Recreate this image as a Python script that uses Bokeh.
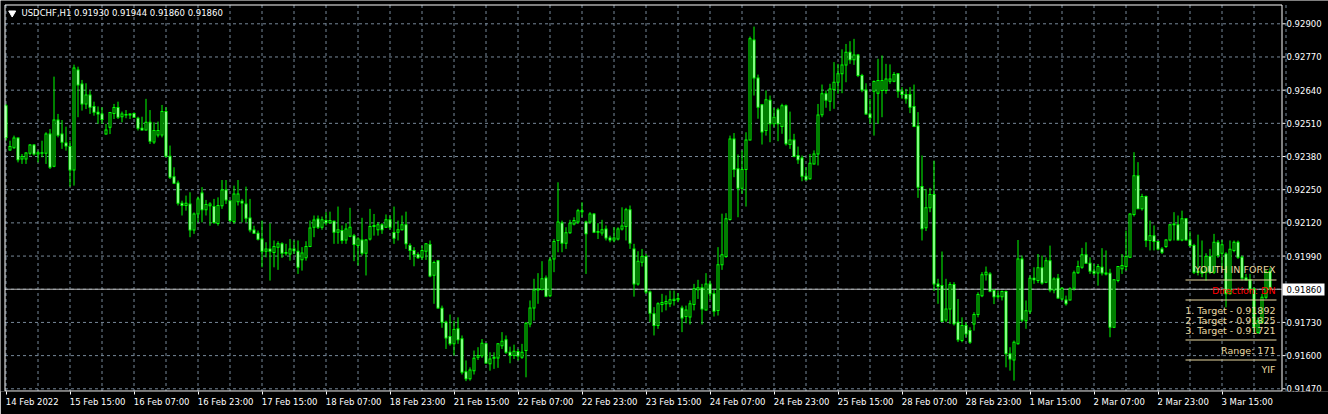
from bokeh.plotting import figure
from bokeh.models import ColumnDataSource, FixedTicker, Label, Range1d, LinearAxis
from bokeh.core.properties import value
from bokeh.embed import file_html
from bokeh.resources import INLINE

# ---------------- data (USDCHF H1) ----------------
opens = [
    0.92579, 0.92406, 0.92414, 0.92453, 0.92370, 0.92370, 0.92393, 0.92425, 0.92390, 0.92395,
    0.92393, 0.92468, 0.92342, 0.92523, 0.92468, 0.92433, 0.92419, 0.92327, 0.92719, 0.92664,
    0.92586, 0.92621, 0.92576, 0.92553, 0.92547, 0.92468, 0.92495, 0.92549, 0.92572, 0.92536,
    0.92545, 0.92543, 0.92549, 0.92530, 0.92491, 0.92484, 0.92514, 0.92437, 0.92464, 0.92464,
    0.92556, 0.92381, 0.92301, 0.92276, 0.92197, 0.92188, 0.92194, 0.92092, 0.92155, 0.92237,
    0.92171, 0.92187, 0.92184, 0.92118, 0.92187, 0.92249, 0.92207, 0.92125, 0.92203, 0.92205,
    0.92194, 0.92139, 0.92092, 0.92079, 0.92057, 0.92009, 0.92018, 0.92004, 0.92025, 0.92038,
    0.92001, 0.91998, 0.92018, 0.92009, 0.91976, 0.91983, 0.92027, 0.92103, 0.92135, 0.92103,
    0.92129, 0.92121, 0.92126, 0.92083, 0.92090, 0.92053, 0.92068, 0.92070, 0.92031, 0.92053,
    0.92001, 0.92057, 0.92106, 0.92093, 0.92113, 0.92103, 0.92132, 0.92082, 0.92083, 0.92093,
    0.92113, 0.92031, 0.92012, 0.91996, 0.91985, 0.92009, 0.92035, 0.91915, 0.91972, 0.91786,
    0.91731, 0.91675, 0.91646, 0.91705, 0.91666, 0.91537, 0.91509, 0.91541, 0.91594, 0.91599,
    0.91646, 0.91568, 0.91590, 0.91591, 0.91639, 0.91662, 0.91613, 0.91600, 0.91616, 0.91594,
    0.91620, 0.91724, 0.91787, 0.91857, 0.91859, 0.91904, 0.91835, 0.91979, 0.92051, 0.92120,
    0.92040, 0.92081, 0.92116, 0.92123, 0.92168, 0.92123, 0.92123, 0.92155, 0.92083, 0.92080,
    0.92096, 0.92061, 0.92053, 0.92057, 0.92096, 0.92106, 0.92171, 0.92018, 0.91881, 0.91966,
    0.91988, 0.91849, 0.91764, 0.91718, 0.91800, 0.91803, 0.91803, 0.91816, 0.91819, 0.91787,
    0.91753, 0.91751, 0.91800, 0.91858, 0.91866, 0.91779, 0.91881, 0.91842, 0.91777, 0.91956,
    0.91988, 0.92133, 0.92449, 0.92332, 0.92256, 0.92329, 0.92445, 0.92837, 0.92688, 0.92583,
    0.92482, 0.92600, 0.92508, 0.92563, 0.92498, 0.92579, 0.92427, 0.92445, 0.92384, 0.92374,
    0.92303, 0.92293, 0.92351, 0.92390, 0.92544, 0.92626, 0.92597, 0.92643, 0.92671, 0.92704,
    0.92739, 0.92789, 0.92759, 0.92778, 0.92697, 0.92641, 0.92547, 0.92636, 0.92628, 0.92639,
    0.92639, 0.92675, 0.92675, 0.92704, 0.92636, 0.92623, 0.92623, 0.92576, 0.92500, 0.92263,
    0.92101, 0.92179, 0.92231, 0.91881, 0.91875, 0.91740, 0.91783, 0.91879, 0.91731, 0.91659,
    0.91718, 0.91698, 0.91724, 0.91761, 0.91835, 0.91917, 0.91920, 0.91855, 0.91831, 0.91831,
    0.91851, 0.91607, 0.91583, 0.91646, 0.91979, 0.91737, 0.91774, 0.91903, 0.91894, 0.91944,
    0.91887, 0.91972, 0.91857, 0.91903, 0.91822, 0.91818, 0.91818, 0.91864, 0.91925, 0.91946,
    0.91995, 0.91962, 0.91931, 0.91924, 0.91946, 0.91924, 0.91923, 0.91711, 0.91894, 0.91940,
    0.91949, 0.91985, 0.92153, 0.92305, 0.92175, 0.92223, 0.92051, 0.92070, 0.92047, 0.92018,
    0.92027, 0.92053, 0.92113, 0.92113, 0.92053, 0.92136, 0.92053, 0.92031, 0.91927, 0.91931,
    0.91927, 0.91988, 0.91927, 0.92044, 0.92001, 0.91998, 0.91842, 0.92012, 0.92044, 0.91985,
    0.91904, 0.91897, 0.91861, 0.91691, 0.91731, 0.91829, 0.91930,
]
highs = [
    0.92586, 0.92442, 0.92462, 0.92455, 0.92390, 0.92397, 0.92429, 0.92429, 0.92403, 0.92442,
    0.92475, 0.92488, 0.92693, 0.92547, 0.92523, 0.92497, 0.92442, 0.92740, 0.92732, 0.92680,
    0.92667, 0.92638, 0.92595, 0.92576, 0.92573, 0.92508, 0.92553, 0.92586, 0.92595, 0.92556,
    0.92562, 0.92549, 0.92553, 0.92536, 0.92536, 0.92606, 0.92562, 0.92514, 0.92517, 0.92582,
    0.92573, 0.92423, 0.92338, 0.92286, 0.92207, 0.92227, 0.92240, 0.92161, 0.92223, 0.92260,
    0.92210, 0.92201, 0.92214, 0.92220, 0.92288, 0.92288, 0.92207, 0.92266, 0.92288, 0.92214,
    0.92262, 0.92214, 0.92109, 0.92090, 0.92129, 0.92044, 0.92118, 0.92051, 0.92048, 0.92044,
    0.92038, 0.92057, 0.92051, 0.92051, 0.92025, 0.92048, 0.92129, 0.92149, 0.92149, 0.92145,
    0.92162, 0.92164, 0.92129, 0.92184, 0.92110, 0.92119, 0.92179, 0.92077, 0.92064, 0.92140,
    0.92057, 0.92175, 0.92155, 0.92123, 0.92119, 0.92153, 0.92149, 0.92184, 0.92129, 0.92149,
    0.92164, 0.92040, 0.92025, 0.92005, 0.92031, 0.92040, 0.92051, 0.91972, 0.91975, 0.91796,
    0.91737, 0.91761, 0.91737, 0.91750, 0.91679, 0.91581, 0.91554, 0.91620, 0.91633, 0.91665,
    0.91648, 0.91613, 0.91613, 0.91648, 0.91692, 0.91679, 0.91635, 0.91643, 0.91626, 0.91646,
    0.91731, 0.91816, 0.91901, 0.91923, 0.91970, 0.91914, 0.91985, 0.92057, 0.92279, 0.92129,
    0.92103, 0.92132, 0.92142, 0.92175, 0.92201, 0.92129, 0.92162, 0.92158, 0.92119, 0.92132,
    0.92110, 0.92070, 0.92103, 0.92103, 0.92181, 0.92179, 0.92188, 0.92038, 0.92009, 0.92018,
    0.91999, 0.91855, 0.91790, 0.91809, 0.91842, 0.91836, 0.91855, 0.91855, 0.91845, 0.91796,
    0.91796, 0.91816, 0.91881, 0.91897, 0.91881, 0.91923, 0.91894, 0.91858, 0.92025, 0.92156,
    0.92158, 0.92462, 0.92472, 0.92388, 0.92404, 0.92475, 0.92850, 0.92889, 0.92701, 0.92586,
    0.92639, 0.92619, 0.92571, 0.92571, 0.92587, 0.92584, 0.92556, 0.92469, 0.92419, 0.92384,
    0.92338, 0.92390, 0.92404, 0.92586, 0.92662, 0.92639, 0.92665, 0.92750, 0.92743, 0.92800,
    0.92821, 0.92832, 0.92841, 0.92782, 0.92704, 0.92667, 0.92606, 0.92678, 0.92763, 0.92776,
    0.92743, 0.92741, 0.92711, 0.92706, 0.92652, 0.92645, 0.92652, 0.92662, 0.92554, 0.92384,
    0.92253, 0.92257, 0.92364, 0.91901, 0.92008, 0.91901, 0.91888, 0.91888, 0.91822, 0.91750,
    0.91731, 0.91711, 0.91770, 0.91848, 0.91927, 0.91949, 0.91927, 0.91861, 0.91855, 0.91855,
    0.91855, 0.91633, 0.91659, 0.92053, 0.91992, 0.91816, 0.91914, 0.91946, 0.91998, 0.91992,
    0.91985, 0.92031, 0.91907, 0.91920, 0.91868, 0.91835, 0.91868, 0.91933, 0.91972, 0.92022,
    0.92044, 0.91985, 0.91959, 0.91959, 0.92021, 0.92012, 0.91940, 0.91900, 0.91949, 0.91998,
    0.92090, 0.92158, 0.92397, 0.92358, 0.92234, 0.92227, 0.92129, 0.92110, 0.92051, 0.92025,
    0.92057, 0.92116, 0.92162, 0.92149, 0.92168, 0.92139, 0.92087, 0.92038, 0.92074, 0.92051,
    0.92001, 0.92018, 0.92077, 0.92053, 0.92053, 0.92005, 0.92051, 0.92051, 0.92051, 0.91992,
    0.91920, 0.91920, 0.91868, 0.91750, 0.91842, 0.91936, 0.91944,
]
lows = [
    0.92442, 0.92403, 0.92410, 0.92357, 0.92351, 0.92351, 0.92384, 0.92384, 0.92357, 0.92377,
    0.92351, 0.92331, 0.92338, 0.92455, 0.92410, 0.92403, 0.92262, 0.92266, 0.92534, 0.92560,
    0.92566, 0.92547, 0.92540, 0.92508, 0.92508, 0.92466, 0.92468, 0.92527, 0.92527, 0.92514,
    0.92530, 0.92527, 0.92531, 0.92482, 0.92482, 0.92482, 0.92429, 0.92429, 0.92455, 0.92455,
    0.92377, 0.92292, 0.92272, 0.92188, 0.92149, 0.92168, 0.92064, 0.92077, 0.92122, 0.92122,
    0.92149, 0.92109, 0.92116, 0.92109, 0.92175, 0.92194, 0.92122, 0.92116, 0.92188, 0.92122,
    0.92122, 0.92083, 0.92077, 0.92051, 0.91946, 0.91985, 0.91894, 0.91946, 0.91936, 0.91983,
    0.91992, 0.91972, 0.91998, 0.91920, 0.91933, 0.91972, 0.92025, 0.92064, 0.92096, 0.92093,
    0.92110, 0.92116, 0.92038, 0.92038, 0.92038, 0.92038, 0.92064, 0.91970, 0.91953, 0.91992,
    0.91914, 0.92051, 0.92070, 0.92070, 0.92077, 0.92100, 0.92093, 0.92038, 0.92051, 0.92090,
    0.92018, 0.91975, 0.91950, 0.91979, 0.91975, 0.91975, 0.91907, 0.91803, 0.91783, 0.91709,
    0.91626, 0.91639, 0.91600, 0.91646, 0.91526, 0.91500, 0.91502, 0.91526, 0.91583, 0.91591,
    0.91568, 0.91541, 0.91548, 0.91552, 0.91626, 0.91607, 0.91570, 0.91587, 0.91581, 0.91587,
    0.91515, 0.91711, 0.91737, 0.91803, 0.91855, 0.91829, 0.91829, 0.91927, 0.92005, 0.92005,
    0.92018, 0.92077, 0.92110, 0.92116, 0.92142, 0.91920, 0.92116, 0.92080, 0.92057, 0.92070,
    0.92051, 0.92044, 0.92044, 0.92051, 0.92090, 0.92051, 0.92018, 0.91831, 0.91874, 0.91949,
    0.91842, 0.91731, 0.91679, 0.91705, 0.91770, 0.91777, 0.91790, 0.91796, 0.91809, 0.91692,
    0.91727, 0.91722, 0.91777, 0.91822, 0.91722, 0.91777, 0.91819, 0.91753, 0.91757, 0.91936,
    0.91983, 0.92129, 0.92299, 0.92142, 0.92234, 0.92184, 0.92443, 0.92619, 0.92528, 0.92427,
    0.92462, 0.92436, 0.92495, 0.92440, 0.92469, 0.92423, 0.92410, 0.92377, 0.92351, 0.92283,
    0.92286, 0.92289, 0.92349, 0.92345, 0.92534, 0.92571, 0.92558, 0.92567, 0.92626, 0.92628,
    0.92671, 0.92743, 0.92739, 0.92691, 0.92632, 0.92543, 0.92508, 0.92462, 0.92508, 0.92534,
    0.92626, 0.92665, 0.92671, 0.92610, 0.92606, 0.92587, 0.92550, 0.92495, 0.92218, 0.92051,
    0.92088, 0.92162, 0.91853, 0.91803, 0.91731, 0.91731, 0.91724, 0.91718, 0.91653, 0.91652,
    0.91672, 0.91646, 0.91698, 0.91750, 0.91829, 0.91894, 0.91848, 0.91802, 0.91822, 0.91816,
    0.91554, 0.91541, 0.91502, 0.91643, 0.91731, 0.91705, 0.91763, 0.91881, 0.91884, 0.91878,
    0.91884, 0.91848, 0.91844, 0.91822, 0.91816, 0.91796, 0.91816, 0.91855, 0.91920, 0.91940,
    0.91959, 0.91920, 0.91914, 0.91874, 0.91914, 0.91914, 0.91672, 0.91708, 0.91887, 0.91920,
    0.91933, 0.91983, 0.92145, 0.92175, 0.92168, 0.92025, 0.92012, 0.92012, 0.92012, 0.91998,
    0.92022, 0.92048, 0.92051, 0.92051, 0.92048, 0.92051, 0.92025, 0.91920, 0.91914, 0.91907,
    0.91894, 0.91920, 0.91920, 0.91983, 0.91940, 0.91789, 0.91839, 0.92005, 0.91979, 0.91894,
    0.91894, 0.91848, 0.91691, 0.91685, 0.91724, 0.91822, 0.91860,
]
closes = [
    0.92455, 0.92419, 0.92453, 0.92367, 0.92380, 0.92394, 0.92425, 0.92390, 0.92395, 0.92393,
    0.92468, 0.92338, 0.92523, 0.92463, 0.92436, 0.92421, 0.92327, 0.92727, 0.92660, 0.92586,
    0.92621, 0.92573, 0.92553, 0.92547, 0.92525, 0.92484, 0.92552, 0.92572, 0.92534, 0.92547,
    0.92543, 0.92547, 0.92534, 0.92491, 0.92484, 0.92514, 0.92440, 0.92482, 0.92482, 0.92556,
    0.92381, 0.92299, 0.92275, 0.92197, 0.92188, 0.92197, 0.92092, 0.92155, 0.92214, 0.92171,
    0.92192, 0.92194, 0.92122, 0.92188, 0.92249, 0.92210, 0.92129, 0.92233, 0.92233, 0.92198,
    0.92138, 0.92092, 0.92079, 0.92056, 0.92009, 0.92018, 0.92009, 0.92027, 0.92038, 0.92001,
    0.92004, 0.92018, 0.92011, 0.91946, 0.92002, 0.92027, 0.92100, 0.92131, 0.92103, 0.92132,
    0.92121, 0.92129, 0.92083, 0.92093, 0.92051, 0.92096, 0.92103, 0.92035, 0.92057, 0.92001,
    0.92053, 0.92106, 0.92110, 0.92113, 0.92093, 0.92132, 0.92103, 0.92060, 0.92093, 0.92113,
    0.92038, 0.92012, 0.91996, 0.91983, 0.92012, 0.92038, 0.91912, 0.91965, 0.91787, 0.91731,
    0.91669, 0.91646, 0.91702, 0.91662, 0.91535, 0.91509, 0.91544, 0.91590, 0.91600, 0.91648,
    0.91571, 0.91587, 0.91594, 0.91646, 0.91656, 0.91613, 0.91600, 0.91617, 0.91598, 0.91613,
    0.91727, 0.91787, 0.91857, 0.91861, 0.91901, 0.91833, 0.91975, 0.92047, 0.92123, 0.92040,
    0.92081, 0.92119, 0.92129, 0.92168, 0.92164, 0.92077, 0.92155, 0.92083, 0.92086, 0.92093,
    0.92061, 0.92053, 0.92061, 0.92096, 0.92108, 0.92171, 0.92040, 0.91881, 0.91970, 0.91988,
    0.91849, 0.91766, 0.91718, 0.91803, 0.91808, 0.91812, 0.91819, 0.91821, 0.91824, 0.91747,
    0.91779, 0.91803, 0.91862, 0.91866, 0.91783, 0.91881, 0.91842, 0.91774, 0.91956, 0.91995,
    0.92136, 0.92449, 0.92329, 0.92256, 0.92329, 0.92445, 0.92841, 0.92688, 0.92573, 0.92476,
    0.92602, 0.92508, 0.92534, 0.92508, 0.92579, 0.92430, 0.92445, 0.92380, 0.92367, 0.92303,
    0.92289, 0.92354, 0.92390, 0.92543, 0.92626, 0.92600, 0.92645, 0.92671, 0.92704, 0.92739,
    0.92789, 0.92759, 0.92778, 0.92697, 0.92641, 0.92547, 0.92532, 0.92674, 0.92678, 0.92678,
    0.92684, 0.92684, 0.92701, 0.92636, 0.92623, 0.92606, 0.92573, 0.92498, 0.92260, 0.92097,
    0.92179, 0.92231, 0.91881, 0.91871, 0.91735, 0.91783, 0.91879, 0.91725, 0.91662, 0.91718,
    0.91685, 0.91652, 0.91761, 0.91839, 0.91917, 0.91927, 0.91852, 0.91831, 0.91835, 0.91851,
    0.91607, 0.91587, 0.91652, 0.91979, 0.91740, 0.91776, 0.91903, 0.91897, 0.91944, 0.91884,
    0.91972, 0.91857, 0.91900, 0.91826, 0.91864, 0.91803, 0.91861, 0.91925, 0.91949, 0.91995,
    0.91962, 0.91931, 0.91923, 0.91949, 0.91924, 0.91920, 0.91711, 0.91897, 0.91949, 0.91953,
    0.91988, 0.92155, 0.92305, 0.92175, 0.92223, 0.92051, 0.92070, 0.92047, 0.92018, 0.92005,
    0.92053, 0.92113, 0.92116, 0.92053, 0.92136, 0.92053, 0.92031, 0.91927, 0.91931, 0.91923,
    0.91988, 0.91927, 0.92044, 0.91992, 0.92034, 0.91842, 0.92017, 0.92044, 0.91985, 0.91904,
    0.91897, 0.91861, 0.91711, 0.91737, 0.91829, 0.91927, 0.91860,
]

x_tick_bars = [0, 16, 32, 48, 64, 80, 96, 112, 128, 144, 160, 176, 192, 208, 224, 240, 256, 272, 288, 304]
x_tick_labels = ["14 Feb 2022", "15 Feb 15:00", "16 Feb 07:00", "16 Feb 23:00", "17 Feb 15:00",
                 "18 Feb 07:00", "18 Feb 23:00", "21 Feb 15:00", "22 Feb 07:00", "22 Feb 23:00",
                 "23 Feb 15:00", "24 Feb 07:00", "24 Feb 23:00", "25 Feb 15:00", "28 Feb 07:00",
                 "28 Feb 23:00", "1 Mar 15:00", "2 Mar 07:00", "2 Mar 23:00", "3 Mar 15:00"]
price_ticks = [0.91470, 0.91600, 0.91730, 0.91990, 0.92120, 0.92250, 0.92380, 0.92510, 0.92640, 0.92770, 0.92900]
price_labels = ["0.91470", "0.91600", "0.91730", "0.91990", "0.92120", "0.92250", "0.92380",
                "0.92510", "0.92640", "0.92770", "0.92900"]
grid_prices = [0.91470, 0.91600, 0.91730, 0.91860, 0.91990, 0.92120, 0.92250, 0.92380, 0.92510, 0.92640, 0.92770, 0.92900]
last_price = 0.91860
last_price_label = "0.91860"
title_text = "USDCHF,H1  0.91930 0.91944 0.91860 0.91860"
info_header = "YOUTH IN FOREX"
info_direction = "Direction: DN"
info_targets = ["1. Target - 0.91892", "2. Target - 0.91825", "3. Target - 0.91721"]
info_range = "Range: 171"
info_footer = "YIF"

# ---------------- layout (window pixels -> data) ----------------
W, H = 1328, 414
BB = 23                      # room for the date axis
FH = H - BB                  # plot frame covers the full width, rows 0..390
PX_BAR = 4.0
PX_PRICE = 25524.0
X0 = -5.5 / PX_BAR           # bar i centred on pixel column 5 + 4 i
X1 = X0 + W / PX_BAR
Y_TOP = 0.92900 + 23.3 / PX_PRICE
Y_BOT = Y_TOP - FH / PX_PRICE
L_EDGE, T_EDGE, R_EDGE, B_EDGE = 4.5, 4.5, 1281.5, 390.5   # chart border (pixel centres)


def wx(px):
    return X0 + px / PX_BAR


def wy(py):
    return Y_TOP - py / PX_PRICE


FONT = "DejaVu Sans"
AX_SIZE = 8.5
LIME = "#00FF00"
GRID = "#778899"
INFO = "#E8D8A0"
EM = {c: 0.636 for c in "0123456789"}
EM.update({" ": 0.318, ":": 0.337, "F": 0.575, "e": 0.615, "b": 0.635, "M": 0.863, "a": 0.613, "r": 0.411})


def text_w(s):
    return sum(EM.get(c, 0.6) for c in s) * AX_SIZE


n = len(closes)
idx = list(range(n))
up = [c >= o for o, c in zip(opens, closes)]
half = 0.5 / PX_PRICE
body_top = [max(o, c) for o, c in zip(opens, closes)]
body_bot = [min(o, c) for o, c in zip(opens, closes)]
src_wick = ColumnDataSource(dict(x=idx, h=highs, l=lows))
src_body = ColumnDataSource(dict(x=idx, top=[t + half for t in body_top], bottom=[b - half for b in body_bot]))
inner = [i for i in idx if body_top[i] - body_bot[i] > 2.2 * half]
src_in_up = ColumnDataSource(dict(
    x=[i for i in inner if up[i]],
    top=[body_top[i] - half for i in inner if up[i]],
    bottom=[body_bot[i] + half for i in inner if up[i]]))
src_in_dn = ColumnDataSource(dict(
    x=[i for i in inner if not up[i]],
    top=[body_top[i] - half for i in inner if not up[i]],
    bottom=[body_bot[i] + half for i in inner if not up[i]]))

p = figure(width=W, height=H, output_backend="svg", toolbar_location=None,
           x_range=Range1d(X0, X1), y_range=Range1d(Y_BOT, Y_TOP),
           x_axis_location=None, y_axis_location=None,
           min_border_left=0, min_border_top=0, min_border_right=0, min_border_bottom=BB,
           background_fill_color="black", border_fill_color="black", outline_line_color=None)
p.grid.visible = False

# dashed grid, bounded by the chart border
vg = list(range(0, n + 8, 8))
p.segment(x0=vg, x1=vg, y0=[wy(T_EDGE)] * len(vg), y1=[wy(B_EDGE)] * len(vg),
          line_color=GRID, line_dash="3 3", line_width=1)
p.segment(x0=[wx(L_EDGE)] * len(grid_prices), x1=[wx(R_EDGE)] * len(grid_prices),
          y0=grid_prices, y1=grid_prices, line_color=GRID, line_dash="3 3", line_width=1)

# current price line
p.segment(x0=[wx(L_EDGE)], x1=[wx(R_EDGE)], y0=[last_price], y1=[last_price],
          line_color="#B8B8B8", line_width=1)

# candles: wick, lime body, inner fill (black = up, white = down)
p.segment(x0="x", y0="l", x1="x", y1="h", source=src_wick, line_color=LIME, line_width=1)
p.vbar(x="x", top="top", bottom="bottom", width=0.75, source=src_body,
       fill_color=LIME, line_color=None)
p.vbar(x="x", top="top", bottom="bottom", width=0.25, source=src_in_up,
       fill_color="black", line_color=None)
p.vbar(x="x", top="top", bottom="bottom", width=0.25, source=src_in_dn,
       fill_color="white", line_color=None)

# chart border
bx0 = [wx(L_EDGE), wx(L_EDGE), wx(L_EDGE), wx(R_EDGE)]
bx1 = [wx(R_EDGE), wx(R_EDGE), wx(L_EDGE), wx(R_EDGE)]
by0 = [wy(T_EDGE), wy(B_EDGE), wy(T_EDGE), wy(T_EDGE)]
by1 = [wy(T_EDGE), wy(B_EDGE), wy(B_EDGE), wy(B_EDGE)]
p.segment(x0=bx0, x1=bx1, y0=by0, y1=by1, line_color="white", line_width=1)

# price scale on the right (inside the canvas area right of the border)
p.segment(x0=[wx(1282)] * len(price_ticks), x1=[wx(1285)] * len(price_ticks),
          y0=price_ticks, y1=price_ticks, line_color="white", line_width=1)
p.text(x=[wx(1286)] * len(price_ticks), y=price_ticks, text=price_labels,
       text_color="white", text_font=value(FONT), text_font_size=f"{AX_SIZE}px",
       text_baseline="middle", text_align="left")
p.quad(left=[wx(1282)], right=[wx(1324)], top=[wy(283)], bottom=[wy(295)],
       fill_color="white", line_color=None)
p.text(x=[wx(1286)], y=[last_price], text=[last_price_label], text_color="black",
       text_font=value(FONT), text_font_size=f"{AX_SIZE}px", text_baseline="middle",
       text_align="left")

# date axis: tick marks + left-aligned labels
ax_ticks = LinearAxis(ticker=FixedTicker(ticks=x_tick_bars),
                      major_label_overrides={t: "" for t in x_tick_bars},
                      major_label_text_font_size="1px", major_label_standoff=0,
                      axis_line_color=None, major_tick_line_color="white",
                      major_tick_in=0, major_tick_out=3, minor_tick_line_color=None)
p.add_layout(ax_ticks, "below")
lab_pos = [b + (text_w(s) / 2 - 0.5) / PX_BAR for b, s in zip(x_tick_bars, x_tick_labels)]
ax_labels = LinearAxis(ticker=FixedTicker(ticks=lab_pos),
                       major_label_overrides={t: s for t, s in zip(lab_pos, x_tick_labels)},
                       axis_line_color=None, major_tick_line_color=None,
                       major_tick_in=0, major_tick_out=0, minor_tick_line_color=None,
                       major_label_standoff=2, major_label_text_color="white",
                       major_label_text_font=FONT, major_label_text_font_size=f"{AX_SIZE}px")
p.add_layout(ax_labels, "below")

# title
p.scatter(x=[wx(11.7)], y=[wy(12.5)], marker="inverted_triangle", size=7,
          fill_color="white", line_color="white")
p.add_layout(Label(x=wx(21), y=wy(12.5), text=title_text, text_color="white",
                   text_font=FONT, text_font_size=f"{AX_SIZE}px", text_baseline="middle"))

# info block (bottom right)
RX = wx(1275)
ys = [wy(279.5), wy(299.5), wy(339.5), wy(359.5)]
p.segment(x0=[wx(1185)] * 4, x1=[wx(1276)] * 4, y0=ys, y1=ys, line_color=INFO, line_width=1)
info_rows = [(info_header, 268.5, INFO), (info_direction, 289.5, "#FF0000"),
             (info_targets[0], 309.5, INFO), (info_targets[1], 319.5, INFO),
             (info_targets[2], 329.5, INFO), (info_range, 349.5, INFO), (info_footer, 369, INFO)]
for txt, py, col in info_rows:
    p.add_layout(Label(x=RX, y=wy(py), text=txt, text_color=col, text_font=FONT,
                       text_font_size="9.5px", text_align="right", text_baseline="middle"))

open("out.html", "w").write(file_html(p, INLINE))
